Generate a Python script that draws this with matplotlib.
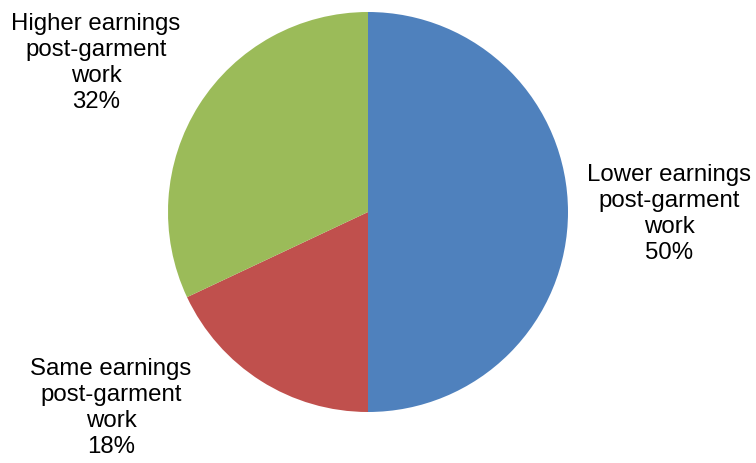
import matplotlib
matplotlib.use('Agg')
import matplotlib.pyplot as plt

# earnings after leaving garment work
categories = ['Lower earnings\npost-garment\nwork', 'Same earnings\npost-garment\nwork',
              'Higher earnings\npost-garment\nwork']
shares = [50, 18, 32]
colors = ['#4F81BD', '#C0504D', '#9BBB59']

plt.rcParams['font.family'] = ['Liberation Sans', 'DejaVu Sans']

W, H = 756, 464
fig = plt.figure(figsize=(W / 100.0, H / 100.0), dpi=100)
ax = fig.add_axes([0, 0, 1, 1])
ax.set_xlim(0, W)
ax.set_ylim(0, H)
ax.set_aspect('equal')
ax.axis('off')

cx, cy, r = 368, H - 213, 200
ax.pie(shares, colors=colors, startangle=90, counterclock=False,
       center=(cx, cy), radius=r, wedgeprops=dict(linewidth=0))
ax.set_xlim(0, W)
ax.set_ylim(0, H)

# label centres (pixels from top-left)
label_pos = [(669, 214), (111, 408), (96, 63)]
for name, val, (x, y) in zip(categories, shares, label_pos):
    ax.text(x, H - y, '%s\n%d%%' % (name, val), ha='center', va='center',
            fontsize=17.3, linespacing=1.25, color='black')

fig.savefig('out.png', dpi=100)
